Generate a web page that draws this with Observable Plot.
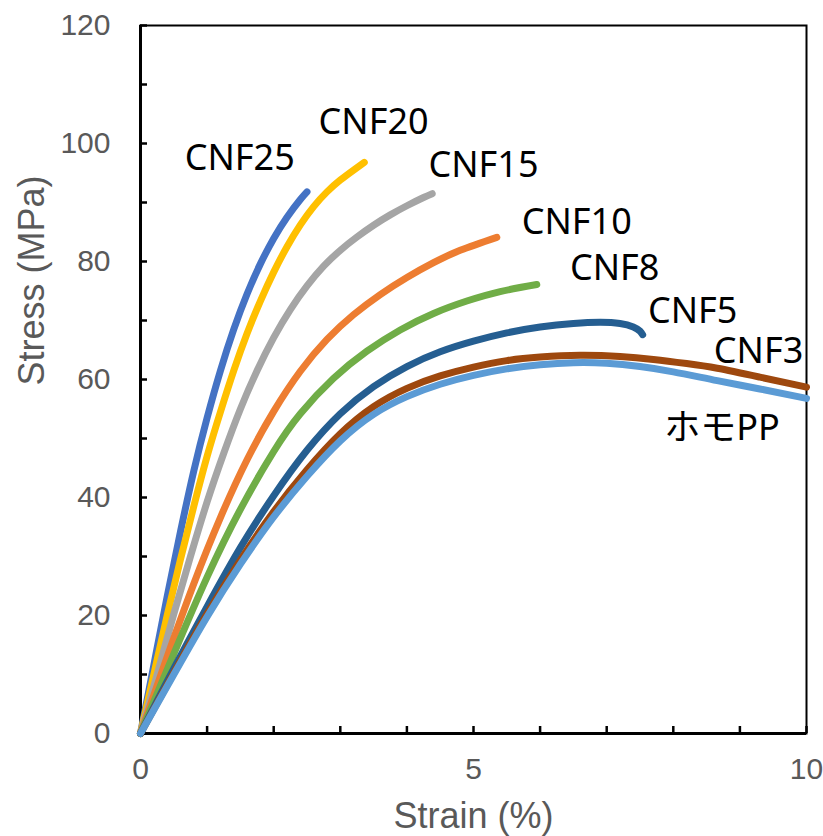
<!DOCTYPE html>
<html>
<head>
<meta charset="utf-8">
<script src="https://cdn.jsdelivr.net/npm/d3@7"></script>
<script src="https://cdn.jsdelivr.net/npm/@observablehq/plot@0.6"></script>
<style>
  html, body { margin: 0; padding: 0; background: #fff; }
  #chart svg { display: block; }
</style>
</head>
<body>
<div id="chart"></div>
<script>
// ---- Data (strain %, stress MPa) ----
const cnf25 = [[0,0],[0.2,11.6],[0.4,23.2],[0.6,34.2],[0.8,44.5],[1.0,53.5],[1.2,61.5],[1.4,68.5],[1.6,74.5],[1.8,79.6],[2.0,83.9],[2.2,87.5],[2.4,90.5],[2.5,91.8]];
const cnf20 = [[0,0],[0.2,10],[0.4,20],[0.6,29.5],[0.8,38.5],[1.0,47],[1.2,54.5],[1.4,61.5],[1.6,67.8],[1.8,73.3],[2.0,78.2],[2.2,82.5],[2.4,86.2],[2.6,89.3],[2.8,91.8],[3.0,93.8],[3.2,95.5],[3.36,96.8]];
const cnf15 = [[0,0],[0.25,10],[0.5,20.25],[0.75,30],[1.0,39.25],[1.25,47.5],[1.5,55],[1.75,61.5],[2.0,67.1],[2.25,71.85],[2.5,75.85],[2.75,79.2],[3.0,81.9],[3.25,84.15],[3.5,86.15],[3.75,87.9],[4.0,89.45],[4.25,90.85],[4.38,91.5]];
const cnf10 = [[0,0],[0.4,13],[0.8,25.4],[1.2,36.6],[1.6,46.4],[2.0,54.6],[2.4,61.4],[2.8,66.8],[3.2,71.0],[3.6,74.4],[4.0,77.3],[4.4,79.8],[4.8,81.9],[5.35,84.1]];
const cnf8  = [[0,0],[0.5,13.5],[1.0,26.5],[1.5,38],[2.0,47.8],[2.4,54.2],[2.9,60.2],[3.4,64.8],[3.9,68.4],[4.4,71.2],[4.9,73.3],[5.4,74.9],[5.95,76.1]];
const cnf5  = [[0,0],[0.5,11],[1.0,21.5],[1.5,31.5],[2.0,40.3],[2.5,48],[3.0,54.2],[3.5,58.8],[4.0,62.2],[4.5,64.7],[5.0,66.5],[5.5,67.9],[6.0,68.9],[6.5,69.5],[6.9,69.7],[7.2,69.5],[7.4,68.9],[7.5,68.2],[7.54,67.6]];
const cnf3  = [[0,0],[0.5,10.3],[1.0,20.3],[1.5,29.4],[2.0,37.6],[2.5,44.7],[3.0,50.8],[3.5,55.4],[4.0,58.5],[4.5,60.6],[5.0,62.1],[5.5,63.2],[6.0,63.8],[6.6,64.1],[7.2,63.9],[7.7,63.4],[8.2,62.7],[8.66,61.9],[9.3,60.4],[10.0,58.7]];
const homoPP = [[0,0],[0.5,10],[1.0,19.8],[1.5,28.7],[2.0,36.7],[2.5,43.6],[3.0,49.6],[3.5,54.1],[4.0,57.1],[4.5,59.2],[5.0,60.7],[5.5,61.8],[6.0,62.5],[6.5,62.85],[7.0,62.75],[7.5,62.2],[8.0,61.3],[8.66,59.8],[9.3,58.4],[10.0,56.8]];

const seriesNames  = ["CNF25","CNF20","CNF15","CNF10","CNF8","CNF5","CNF3","ホモPP"];
const seriesData   = [cnf25, cnf20, cnf15, cnf10, cnf8, cnf5, cnf3, homoPP];
const seriesColors = ["#4472C4","#FFC000","#A5A5A5","#ED7D31","#70AD47","#255E91","#9E480E","#5B9BD5"];

// label anchor positions (data units)
const labelX = [1.49, 3.5, 5.15, 6.55, 7.12, 8.29, 9.28, 8.73];
const labelY = [97.5, 103.6, 96.3, 86.6, 78.8, 71.5, 64.7, 51.7];

const xMajorTicks = [0, 5, 10];
const xMinorTicks = d3.range(0, 11, 1);
const yMajorTicks = d3.range(0, 121, 20);
const yMinorTicks = d3.range(0, 121, 10);

const tickFont = "'Liberation Sans', Arial, sans-serif";
const labelFont = "'Noto Sans', 'Noto Sans CJK JP', sans-serif";

const lineMarks = seriesData.map((d, i) =>
  Plot.line(d, {x: p => p[0], y: p => p[1], stroke: seriesColors[i], strokeWidth: 7,
    strokeLinecap: "round", strokeLinejoin: "round", curve: "natural"})
);

const labels = seriesNames.map((name, i) => ({name, x: labelX[i], y: labelY[i]}));

const chart = Plot.plot({
  width: 823,
  height: 836,
  marginLeft: 140,
  marginRight: 17,
  marginTop: 25,
  marginBottom: 103,
  x: {domain: [0, 10]},
  y: {domain: [0, 120]},
  style: {background: "#fff", fontFamily: tickFont},
  marks: [
    // inward minor/major ticks
    Plot.axisY({ticks: yMinorTicks, tickSize: 7, dx: 7, tickFormat: () => "", stroke: "#000", strokeWidth: 2.5, label: null}),
    Plot.axisX({ticks: xMinorTicks, tickSize: 7, dy: -7, tickFormat: () => "", stroke: "#000", strokeWidth: 2.5, label: null}),
    // tick labels
    Plot.axisY({ticks: yMajorTicks, tickSize: 0, tickPadding: 30, fontSize: 30, fill: "#595959", label: null}),
    Plot.axisX({ticks: xMajorTicks, tickSize: 0, tickPadding: 24, fontSize: 30, fill: "#595959", label: null}),
    // frame
    Plot.frame({stroke: "#000", strokeWidth: 2}),
    Plot.ruleX([0], {stroke: "#000", strokeWidth: 3}),
    Plot.ruleY([0], {stroke: "#000", strokeWidth: 3}),
    ...lineMarks,
    Plot.text(labels, {x: "x", y: "y", text: "name", fontSize: 36, fontFamily: labelFont, fill: "#000"}),
    // axis titles
    Plot.text(["Stress (MPa)"], {frameAnchor: "left", dx: -108, dy: 6, rotate: -90, fontSize: 36, fill: "#595959", fontFamily: tickFont}),
    Plot.text(["Strain (%)"], {frameAnchor: "bottom", dy: 94, fontSize: 36, fill: "#595959", fontFamily: tickFont})
  ]
});
document.getElementById("chart").appendChild(chart);
</script>
</body>
</html>
